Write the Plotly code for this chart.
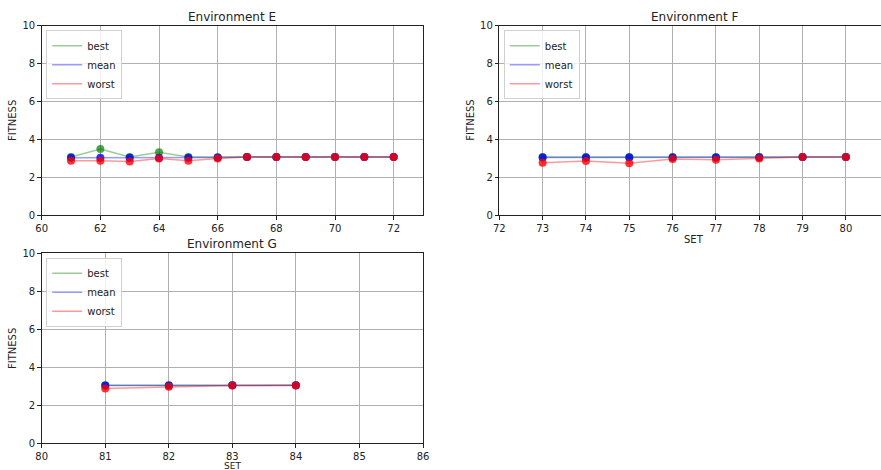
import plotly.graph_objects as go

W, H = 881, 470

# ---- data ----
e_x = [61, 62, 63, 64, 65, 66, 67, 68, 69, 70, 71, 72]
e_best = [3.06, 3.48, 3.06, 3.32, 3.06, 3.05, 3.06, 3.06, 3.06, 3.06, 3.06, 3.06]
e_mean = [3.02, 3.02, 3.03, 3.03, 3.03, 3.04, 3.06, 3.06, 3.06, 3.06, 3.06, 3.06]
e_worst = [2.86, 2.86, 2.82, 2.99, 2.87, 2.99, 3.06, 3.06, 3.06, 3.06, 3.06, 3.06]

f_x = [73, 74, 75, 76, 77, 78, 79, 80]
f_best = [3.06, 3.06, 3.06, 3.06, 3.06, 3.06, 3.06, 3.06]
f_mean = [3.04, 3.04, 3.04, 3.04, 3.04, 3.05, 3.06, 3.06]
f_worst = [2.76, 2.85, 2.73, 2.96, 2.92, 2.99, 3.06, 3.06]

g_x = [81, 82, 83, 84]
g_best = [3.05, 3.05, 3.06, 3.06]
g_mean = [3.04, 3.04, 3.05, 3.05]
g_worst = [2.89, 2.97, 3.04, 3.04]

titles = ["Environment E", "Environment F", "Environment G"]
series_names = ["best", "mean", "worst"]
line_colors = ["rgba(0,128,0,0.4)", "rgba(0,0,255,0.4)", "rgba(255,0,0,0.4)"]
marker_colors = ["rgba(0,128,0,0.7)", "rgba(0,0,255,0.8)", "rgba(255,0,0,0.8)"]

panels = [
    dict(x=e_x, ys=[e_best, e_mean, e_worst], xr=[60, 73], dtick=2,
         xd=[41.7 / W, 423 / W], yd=[1 - 215 / H, 1 - 25.7 / H], right=True),
    dict(x=f_x, ys=[f_best, f_mean, f_worst], xr=[72, 80.81], dtick=1,
         xd=[499.3 / W, 1.0], yd=[1 - 215 / H, 1 - 25.7 / H], right=False),
    dict(x=g_x, ys=[g_best, g_mean, g_worst], xr=[80, 86], dtick=1,
         xd=[41.7 / W, 423 / W], yd=[1 - 443.3 / H, 1 - 253.3 / H], right=True),
]

fig = go.Figure()
font = dict(family="DejaVu Sans", size=10, color="#222222")
layout = dict(width=W, height=H,
              margin=dict(l=0, r=0, t=0, b=0, autoexpand=False),
              paper_bgcolor="white", plot_bgcolor="white", font=font,
              showlegend=True)
annotations = []

for i, p in enumerate(panels):
    n = i + 1
    xa = "x" if n == 1 else f"x{n}"
    ya = "y" if n == 1 else f"y{n}"
    lg = "legend" if n == 1 else f"legend{n}"
    for k in range(3):
        fig.add_trace(go.Scatter(x=p["x"], y=p["ys"][k], mode="lines",
                                 name=series_names[k],
                                 line=dict(color=line_colors[k], width=1.5),
                                 xaxis=xa, yaxis=ya, legend=lg))
    for k in range(3):
        fig.add_trace(go.Scatter(x=p["x"], y=p["ys"][k], mode="markers",
                                 showlegend=False,
                                 marker=dict(color=marker_colors[k], size=8,
                                             line=dict(width=0)),
                                 xaxis=xa, yaxis=ya))
    axkey_x = "xaxis" if n == 1 else f"xaxis{n}"
    axkey_y = "yaxis" if n == 1 else f"yaxis{n}"
    layout[axkey_x] = dict(domain=p["xd"], range=p["xr"], dtick=p["dtick"],
                           tick0=p["xr"][0], anchor=ya, automargin=False,
                           showgrid=True, gridcolor="#b0b0b0", gridwidth=1,
                           zeroline=False, showline=True, linecolor="#222",
                           linewidth=1, mirror=True, ticks="outside",
                           ticklen=3.5, tickcolor="#222", tickfont=font)
    layout[axkey_y] = dict(domain=p["yd"], range=[0, 10], dtick=2, anchor=xa,
                           automargin=False,
                           showgrid=True, gridcolor="#b0b0b0", gridwidth=1,
                           zeroline=False, showline=True, linecolor="#222",
                           linewidth=1, mirror=p["right"], ticks="outside",
                           ticklen=3.5, tickcolor="#222", tickfont=font)
    top_px = (1 - p["yd"][1]) * H
    left_px = p["xd"][0] * W
    layout[lg] = dict(x=(left_px + 4.5) / W, y=1 - (top_px + 4.5) / H,
                      xanchor="left", yanchor="top", xref="paper", yref="paper",
                      bgcolor="rgba(255,255,255,0.8)", bordercolor="#d0d0d0",
                      borderwidth=1, font=dict(family="DejaVu Sans", size=10,
                                               color="#222"),
                      tracegroupgap=0, itemwidth=30)
    # panel title
    full_right = 889 if n == 2 else p["xd"][1] * W
    cx = (left_px + full_right) / 2
    annotations.append(dict(text=titles[i], x=cx / W, y=1 - (top_px - 9) / H,
                            xref="paper", yref="paper", showarrow=False,
                            xanchor="center", yanchor="middle",
                            font=dict(family="DejaVu Sans", size=12, color="#222")))
    # y title
    ymid = (p["yd"][0] + p["yd"][1]) / 2
    annotations.append(dict(text="FITNESS", x=(left_px - 29) / W, y=ymid,
                            xref="paper", yref="paper", showarrow=False,
                            textangle=-90, xanchor="center", yanchor="middle",
                            font=font))
    # x title
    if n != 1:
        bot_px = (1 - p["yd"][0]) * H
        off = 25 if n == 2 else 22.5
        fsize = 10 if n == 2 else 9
        annotations.append(dict(text="SET", x=cx / W, y=1 - (bot_px + off) / H,
                                xref="paper", yref="paper", showarrow=False,
                                xanchor="center", yanchor="middle",
                                font=dict(family="DejaVu Sans", size=fsize,
                                          color="#222")))

layout["annotations"] = annotations
fig.update_layout(**layout)
fig.write_html("out.html")
